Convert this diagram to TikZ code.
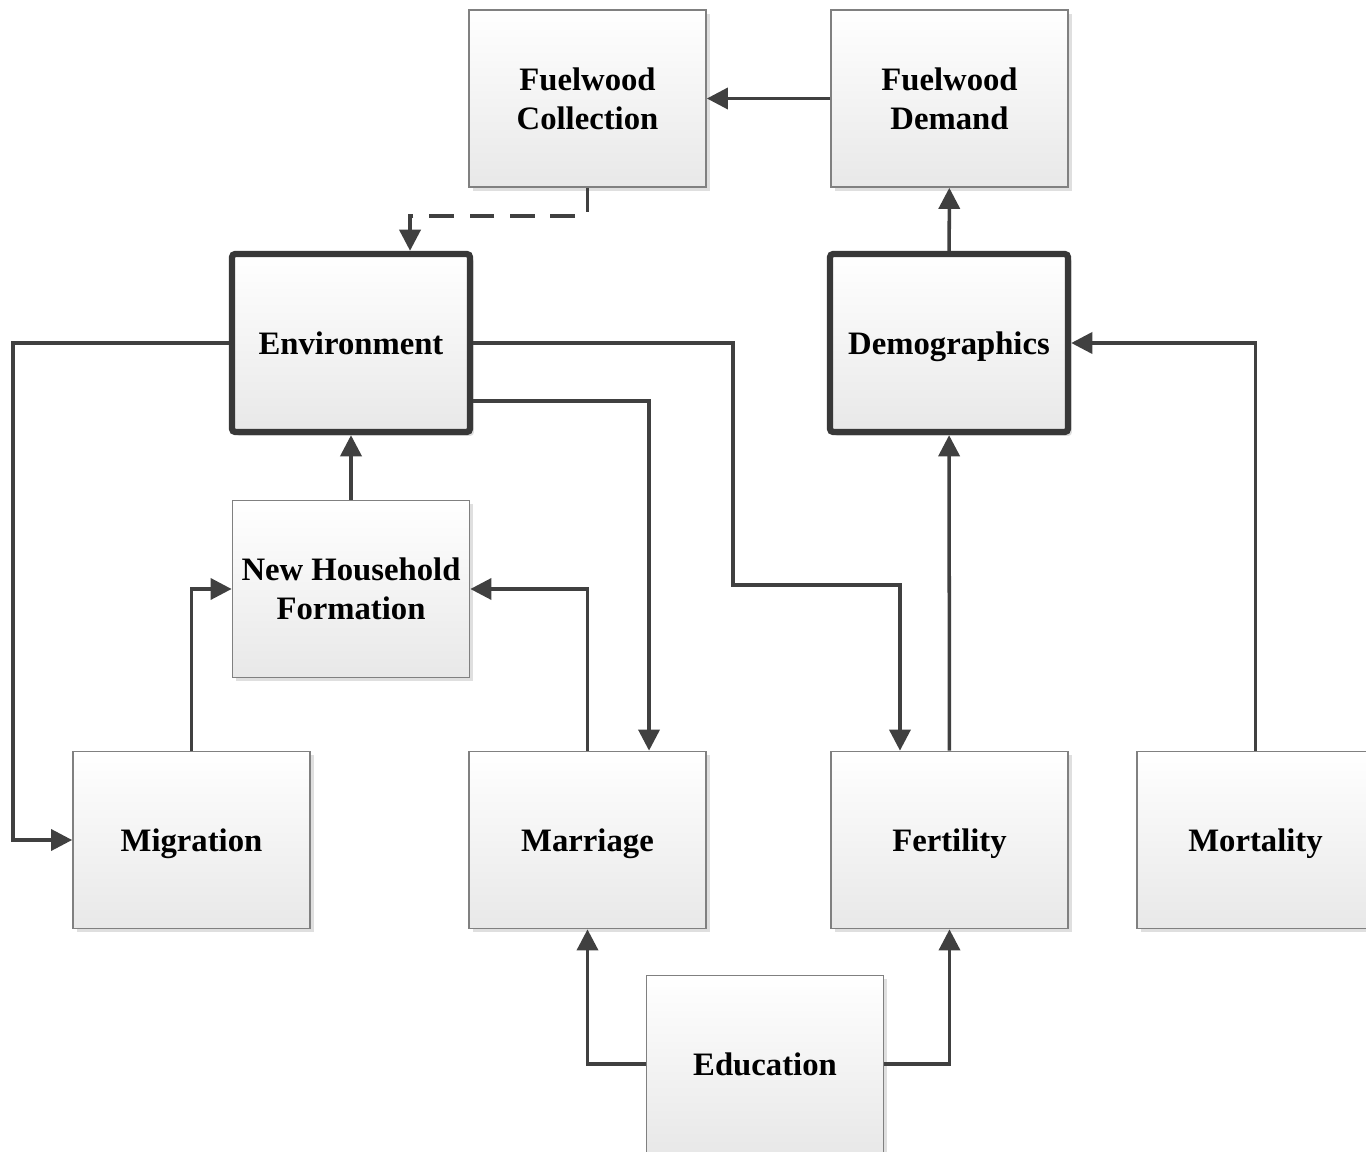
\documentclass[tikz,border=0pt]{standalone}
\usepackage{fontspec}
\setmainfont{Liberation Serif}
\usetikzlibrary{arrows.meta,shadows}
\begin{document}
\begin{tikzpicture}[x=0.01cm,y=-0.01cm,line join=miter,>={Triangle[length=6pt,width=6pt]},
	box/.style={draw=black!50,line width=0.45pt,top color=white,bottom color=black!9,
		minimum width=2.37cm,minimum height=1.77cm,inner sep=0pt,align=center,
		font=\bfseries\fontsize{9.3}{11}\selectfont,
		drop shadow={shadow xshift=1.1pt,shadow yshift=-1.1pt,fill=black!25,opacity=0.5}},
	bigbox/.style={box,draw=black!78,line width=1.8pt,rounded corners=1pt,
		minimum width=2.38cm,minimum height=1.78cm},
	oneline/.style={text height=0.9em,text depth=0.24em},
	link/.style={draw=black!75,line width=1pt}]
	\useasboundingbox (0,0) rectangle (1366,1152);
	% boxes
	\node[box] (fcoll) at (587.5,98.5) {Fuelwood\\Collection};
	\node[box] (fdem) at (949.5,98.5) {Fuelwood\\Demand};
	\node[bigbox,oneline] (env) at (351,343) {Environment};
	\node[bigbox,oneline] (demo) at (949,343) {Demographics};
	\node[box] (nhf) at (351,589) {New Household\\Formation};
	\node[box,oneline] (mig) at (191.5,840) {Migration};
	\node[box,oneline] (marr) at (587.5,840) {Marriage};
	\node[box,oneline] (fert) at (949.5,840) {Fertility};
	\node[box,oneline] (mort) at (1255.5,840) {Mortality};
	\node[box,oneline] (edu) at (765,1064) {Education};
	% links
	\draw[link,->] (fdem) -- (fcoll);
	\draw[link,->,dash pattern=on 7pt off 4.5pt] (fcoll.south) -- ++(0,28) -| ([xshift=0.59cm]env.north);
	\draw[link,->] (demo) -- (fdem);
	\draw[link,->] (env.west) -- ++(-216,0) |- (mig.west);
	\draw[link,->] (env.east) -- ++(260,0) -- ++(0,242) -| ([xshift=-0.495cm]fert.north);
	\draw[link,->] ([yshift=-0.58cm]env.east) -| ([xshift=0.615cm]marr.north);
	\draw[link,->] (nhf) -- (env);
	\draw[link,->] (mig.north) |- (nhf.west);
	\draw[link,->] (marr.north) |- (nhf.east);
	\draw[link,->] (fert) -- (demo);
	\draw[link,->] (mort.north) |- (demo.east);
	\draw[link,->] (edu.west) -| (marr.south);
	\draw[link,->] (edu.east) -| (fert.south);
\end{tikzpicture}
\end{document}
